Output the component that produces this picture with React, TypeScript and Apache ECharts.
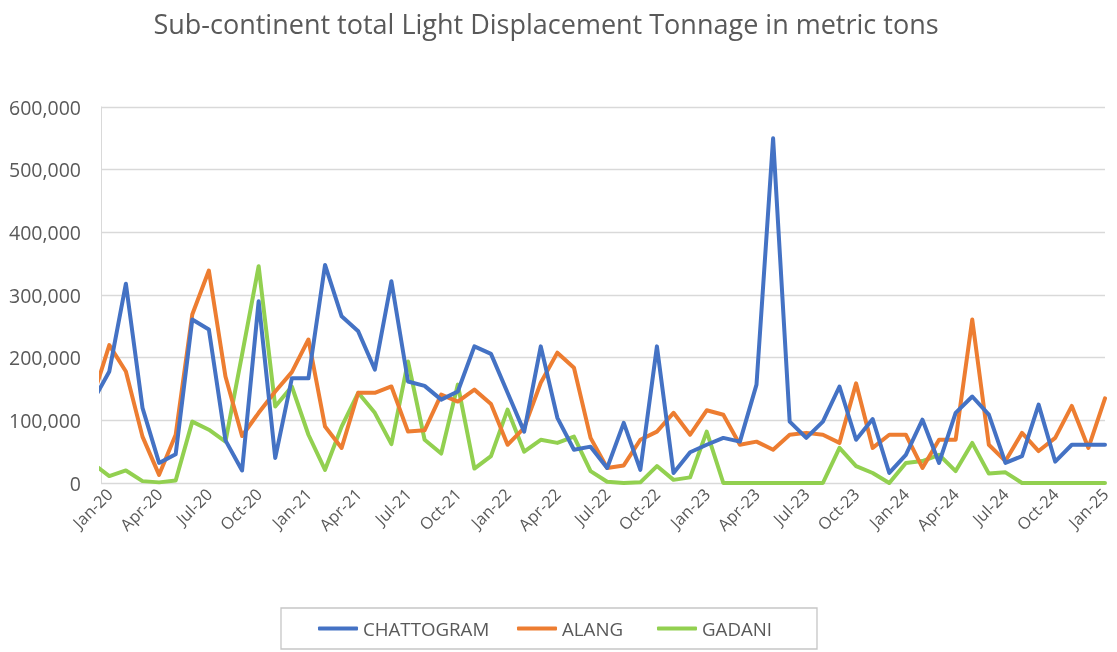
import { useEffect, useRef } from 'react';
import * as echarts from 'echarts';

// Monthly points; Dec-19 sits just left of the plot and is clipped by the axis edge.
const months = [
  'Dec-19',
  'Jan-20', 'Feb-20', 'Mar-20', 'Apr-20', 'May-20', 'Jun-20', 'Jul-20', 'Aug-20', 'Sep-20', 'Oct-20', 'Nov-20', 'Dec-20',
  'Jan-21', 'Feb-21', 'Mar-21', 'Apr-21', 'May-21', 'Jun-21', 'Jul-21', 'Aug-21', 'Sep-21', 'Oct-21', 'Nov-21', 'Dec-21',
  'Jan-22', 'Feb-22', 'Mar-22', 'Apr-22', 'May-22', 'Jun-22', 'Jul-22', 'Aug-22', 'Sep-22', 'Oct-22', 'Nov-22', 'Dec-22',
  'Jan-23', 'Feb-23', 'Mar-23', 'Apr-23', 'May-23', 'Jun-23', 'Jul-23', 'Aug-23', 'Sep-23', 'Oct-23', 'Nov-23', 'Dec-23',
  'Jan-24', 'Feb-24', 'Mar-24', 'Apr-24', 'May-24', 'Jun-24', 'Jul-24', 'Aug-24', 'Sep-24', 'Oct-24', 'Nov-24', 'Dec-24',
  'Jan-25',
];

const chattogram = [
  130000,
  178000, 318000, 120000, 32000, 46000, 261000, 245000, 68000, 20000, 290000, 40000, 167000,
  167000, 348000, 266000, 242000, 181000, 322000, 162000, 155000, 133000, 146000, 218000, 206000,
  144000, 82000, 218000, 104000, 53000, 58000, 24000, 96000, 21000, 218000, 16000, 49000,
  61000, 72000, 66000, 157000, 550000, 98000, 72000, 98000, 154000, 69000, 102000, 16000,
  45000, 101000, 32000, 112000, 138000, 109000, 32000, 43000, 125000, 34000, 61000, 61000,
  61000,
];

const alang = [
  136000,
  220000, 178000, 74000, 13000, 77000, 269000, 339000, 170000, 75000, 112000, 146000, 177000,
  229000, 90000, 56000, 144000, 144000, 154000, 82000, 84000, 141000, 130000, 149000, 126000,
  61000, 88000, 160000, 208000, 184000, 72000, 24000, 28000, 69000, 82000, 112000, 77000,
  116000, 109000, 61000, 66000, 53000, 77000, 80000, 77000, 64000, 159000, 56000, 77000,
  77000, 24000, 69000, 69000, 261000, 61000, 35000, 80000, 51000, 72000, 123000, 56000,
  135000,
];

const gadani = [
  31000,
  11000, 20000, 3000, 1000, 4000, 98000, 85000, 66000, 205000, 346000, 122000, 154000,
  77000, 21000, 90000, 144000, 112000, 62000, 194000, 69000, 47000, 157000, 23000, 43000,
  117000, 50000, 69000, 64000, 74000, 19000, 2000, 0, 1000, 27000, 5000, 9000,
  82000, 0, 0, 0, 0, 0, 0, 0, 56000, 27000, 16000, 0,
  32000, 35000, 45000, 19000, 64000, 15000, 17000, 0, 0, 0, 0, 0,
  0,
];

const tickLabels = [
  'Jan-20', 'Apr-20', 'Jul-20', 'Oct-20', 'Jan-21', 'Apr-21', 'Jul-21', 'Oct-21',
  'Jan-22', 'Apr-22', 'Jul-22', 'Oct-22', 'Jan-23', 'Apr-23', 'Jul-23', 'Oct-23',
  'Jan-24', 'Apr-24', 'Jul-24', 'Oct-24', 'Jan-25',
];

const seriesNames = ['CHATTOGRAM', 'ALANG', 'GADANI'];
const seriesColors = ['#4472C4', '#ED7D31', '#92D050'];
const titleText = 'Sub-continent total Light Displacement Tonnage in metric tons';

export default function App() {
  const ref = useRef<HTMLDivElement>(null);

  useEffect(() => {
    if (!ref.current) return;
    const chart = echarts.init(ref.current, null, { renderer: 'svg' });
    const font = "'Open Sans', sans-serif";
    const textColor = '#595959';
    const gridColor = '#d9d9d9';

    const pos = (label: string) => months.indexOf(label) - 1;
    const tickValues = tickLabels.map(pos);
    const toPairs = (vals: number[]) => vals.map((v, i) => [pos(months[i]), v]);
    const allSeries = [chattogram, alang, gadani];
    const legendLefts = [318, 517, 657];

    chart.setOption({
      animation: false,
      textStyle: { fontFamily: font },
      grid: { left: 101, right: 12, top: 107, bottom: 169, containLabel: false },
      xAxis: {
        type: 'value',
        min: -0.5,
        max: 60,
        axisLine: { show: false, onZero: false },
        axisTick: { show: false },
        splitLine: { show: false },
        axisLabel: {
          customValues: tickValues,
          formatter: (v: number) => tickLabels[tickValues.indexOf(Math.round(v))] ?? '',
          rotate: 45,
          color: textColor,
          fontSize: 16.5,
          fontFamily: font,
          margin: 8,
        },
      },
      yAxis: {
        type: 'value',
        min: 0,
        max: 600000,
        interval: 100000,
        axisLine: { show: true, onZero: false, lineStyle: { color: gridColor, width: 1 } },
        axisTick: { show: false },
        splitLine: { lineStyle: { color: gridColor, width: 1.3 } },
        axisLabel: {
          formatter: (v: number) => v.toLocaleString('en-US'),
          color: textColor,
          fontSize: 19.5,
          fontFamily: font,
          margin: 20,
        },
      },
      legend: seriesNames.map((name, i) => ({
        data: [name],
        left: legendLefts[i],
        top: 619,
        padding: 0,
        icon: 'roundRect',
        itemWidth: 40,
        itemHeight: 4,
        textStyle: { color: textColor, fontSize: 18.7, fontFamily: font },
      })),
      graphic: [
        {
          type: 'text',
          x: 546,
          y: 23,
          style: {
            text: titleText,
            fill: textColor,
            font: `27px ${font}`,
            textAlign: 'center',
            textVerticalAlign: 'middle',
          },
        },
        {
          type: 'rect',
          shape: { x: 281, y: 608, width: 536, height: 41 },
          style: { fill: 'none', stroke: '#c6c6c6', lineWidth: 1.3 },
          silent: true,
        },
      ],
      series: allSeries.map((vals, i) => ({
        name: seriesNames[i],
        type: 'line',
        data: toPairs(vals),
        showSymbol: false,
        symbol: 'none',
        clip: true,
        color: seriesColors[i],
        lineStyle: { width: 4, color: seriesColors[i], join: 'round', cap: 'round' },
        z: 3 - i,
      })),
    });

    return () => chart.dispose();
  }, []);

  return (
    <div
      ref={ref}
      style={{ position: 'fixed', left: 0, top: 0, width: 1117, height: 652 }}
    />
  );
}
